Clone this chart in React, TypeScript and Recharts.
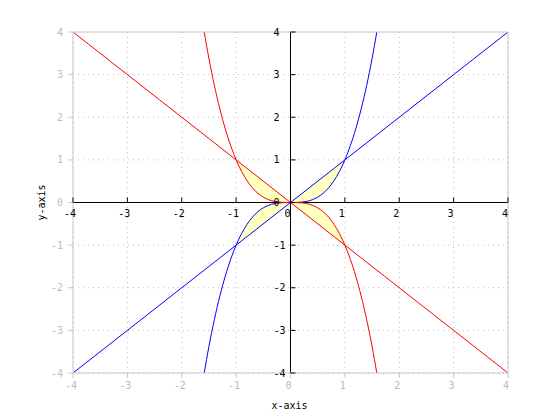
import React from "react";
import {
  Area,
  CartesianGrid,
  ComposedChart,
  Label,
  Line,
  ReferenceDot,
  ReferenceLine,
  XAxis,
  YAxis,
} from "recharts";

const ticks = [-4, -3, -2, -1, 0, 1, 2, 3, 4];

// straight lines y = x (blue) and y = -x (red)
const lineX = [-4, 4];
const blueLine = [-4, 4];
const redLine = [4, -4];

// cubic curves
const curveX = [
  -1.587, -1.5, -1.4, -1.3, -1.2, -1.1, -1, -0.9, -0.8, -0.7, -0.6, -0.5, -0.4, -0.3, -0.2, -0.1, 0,
  0.1, 0.2, 0.3, 0.4, 0.5, 0.6, 0.7, 0.8, 0.9, 1, 1.1, 1.2, 1.3, 1.4, 1.5, 1.587,
];
const blueCurve = [
  -4, -3.375, -2.744, -2.197, -1.728, -1.331, -1, -0.729, -0.512, -0.343, -0.216, -0.125, -0.064,
  -0.027, -0.008, -0.001, 0, 0.001, 0.008, 0.027, 0.064, 0.125, 0.216, 0.343, 0.512, 0.729, 1, 1.331,
  1.728, 2.197, 2.744, 3.375, 4,
];
const redCurve = [
  4, 3.375, 2.744, 2.197, 1.728, 1.331, 1, 0.729, 0.512, 0.343, 0.216, 0.125, 0.064, 0.027, 0.008,
  0.001, 0, -0.001, -0.008, -0.027, -0.064, -0.125, -0.216, -0.343, -0.512, -0.729, -1, -1.331,
  -1.728, -2.197, -2.744, -3.375, -4,
];

// shaded bands between line and cubic on [-1, 1]
const bandX = [-1, -0.9, -0.8, -0.7, -0.6, -0.5, -0.4, -0.3, -0.2, -0.1, 0, 0.1, 0.2, 0.3, 0.4, 0.5, 0.6, 0.7, 0.8, 0.9, 1];
const blueBandLine = [-1, -0.9, -0.8, -0.7, -0.6, -0.5, -0.4, -0.3, -0.2, -0.1, 0, 0.1, 0.2, 0.3, 0.4, 0.5, 0.6, 0.7, 0.8, 0.9, 1];
const redBandLine = [1, 0.9, 0.8, 0.7, 0.6, 0.5, 0.4, 0.3, 0.2, 0.1, 0, -0.1, -0.2, -0.3, -0.4, -0.5, -0.6, -0.7, -0.8, -0.9, -1];

type Row = { x: number; [k: string]: any };

const rowMap = new Map<number, Row>();
const row = (x: number) => {
  if (!rowMap.has(x)) rowMap.set(x, { x });
  return rowMap.get(x)!;
};
lineX.forEach((x, i) => {
  row(x).blueLine = blueLine[i];
  row(x).redLine = redLine[i];
});
curveX.forEach((x, i) => {
  row(x).blueCurve = blueCurve[i];
  row(x).redCurve = redCurve[i];
});
bandX.forEach((x, i) => {
  const r = row(x);
  r.blueBand = [r.blueCurve, blueBandLine[i]];
  r.redBand = [r.redCurve, redBandLine[i]];
});
const data = Array.from(rowMap.values()).sort((a, b) => a.x - b.x);

const FONT = "DejaVu Sans Mono";
const FRAME = "#c8c8c8";
const FRAME_TEXT = "#bcbcbc";

const xTick = (t: number) => (p: any) => (
  <g>
    <line x1={p.cx} y1={p.cy} x2={p.cx} y2={p.cy - 5} stroke="#000" />
    <text
      x={p.cx - 3}
      y={p.cy + 11}
      textAnchor="middle"
      dominantBaseline="central"
      fontFamily={FONT}
      fontSize={10}
      fill="#000"
    >
      {t}
    </text>
  </g>
);

const yTick = (t: number) => (p: any) => (
  <g>
    <line x1={p.cx} y1={p.cy} x2={p.cx + 5} y2={p.cy} stroke="#000" />
    <text
      x={p.cx - 17}
      y={p.cy}
      textAnchor="start"
      dominantBaseline="central"
      fontFamily={FONT}
      fontSize={10}
      fill="#000"
    >
      {t}
    </text>
  </g>
);

const xLabel = (props: any) => {
  const vb = props.viewBox;
  return (
    <text
      x={vb.x + vb.width / 2 - 1}
      y={vb.y + 32}
      textAnchor="middle"
      dominantBaseline="central"
      fontFamily={FONT}
      fontSize={10}
      fill="#000"
    >
      x-axis
    </text>
  );
};

const yLabel = (props: any) => {
  const vb = props.viewBox;
  const cx = vb.x + 41;
  const cy = vb.y + vb.height / 2;
  return (
    <text
      x={cx}
      y={cy}
      transform={`rotate(-90 ${cx} ${cy})`}
      textAnchor="middle"
      dominantBaseline="central"
      fontFamily={FONT}
      fontSize={10}
      fill="#000"
    >
      y-axis
    </text>
  );
};

export default function App() {
  const tickStyle = { fontSize: 10, fontFamily: FONT, fill: FRAME_TEXT };
  return (
    <div style={{ position: "absolute", left: 0, top: 0, width: 560, height: 420, background: "#fff" }}>
      <ComposedChart width={560} height={420} data={data} margin={{ top: 27, right: 47, bottom: 0, left: 0 }}>
        <CartesianGrid stroke="#bdbdbd" strokeDasharray="1 4" />
        <XAxis
          dataKey="x"
          type="number"
          domain={[-4, 4]}
          ticks={ticks}
          allowDataOverflow
          height={47}
          tickSize={5}
          tickMargin={4}
          stroke={FRAME}
          tick={{ ...tickStyle, dx: -2 }}
        >
          <Label content={xLabel} />
        </XAxis>
        <XAxis
          xAxisId="top"
          orientation="top"
          dataKey="x"
          type="number"
          domain={[-4, 4]}
          ticks={ticks}
          allowDataOverflow
          height={5}
          tickSize={5}
          stroke={FRAME}
          tick={false}
        />
        <YAxis
          type="number"
          domain={[-4, 4]}
          ticks={ticks}
          allowDataOverflow
          width={73}
          tickSize={5}
          tickMargin={5}
          stroke={FRAME}
          tick={tickStyle}
        >
          <Label content={yLabel} />
        </YAxis>
        <YAxis
          yAxisId="right"
          orientation="right"
          type="number"
          domain={[-4, 4]}
          ticks={ticks}
          allowDataOverflow
          width={5}
          tickSize={5}
          stroke={FRAME}
          tick={false}
        />
        <Area
          dataKey="blueBand"
          type="monotone"
          stroke="none"
          fill="#ffffc0"
          fillOpacity={1}
          isAnimationActive={false}
        />
        <Area
          dataKey="redBand"
          type="monotone"
          stroke="none"
          fill="#ffffc0"
          fillOpacity={1}
          isAnimationActive={false}
        />
        <ReferenceLine x={0} stroke="#000" />
        <ReferenceLine y={0} stroke="#000" />
        {ticks.map((t) => (
          <ReferenceDot key={`xt${t}`} x={t} y={0} r={0} shape={xTick(t)} />
        ))}
        {ticks.map((t) => (
          <ReferenceDot key={`yt${t}`} x={0} y={t} r={0} shape={yTick(t)} />
        ))}
        <Line dataKey="blueLine" type="linear" stroke="#0000ff" strokeWidth={1} dot={false} connectNulls isAnimationActive={false} />
        <Line dataKey="redLine" type="linear" stroke="#ff0000" strokeWidth={1} dot={false} connectNulls isAnimationActive={false} />
        <Line dataKey="blueCurve" type="monotone" stroke="#0000ff" strokeWidth={1} dot={false} connectNulls isAnimationActive={false} />
        <Line dataKey="redCurve" type="monotone" stroke="#ff0000" strokeWidth={1} dot={false} connectNulls isAnimationActive={false} />
      </ComposedChart>
    </div>
  );
}
